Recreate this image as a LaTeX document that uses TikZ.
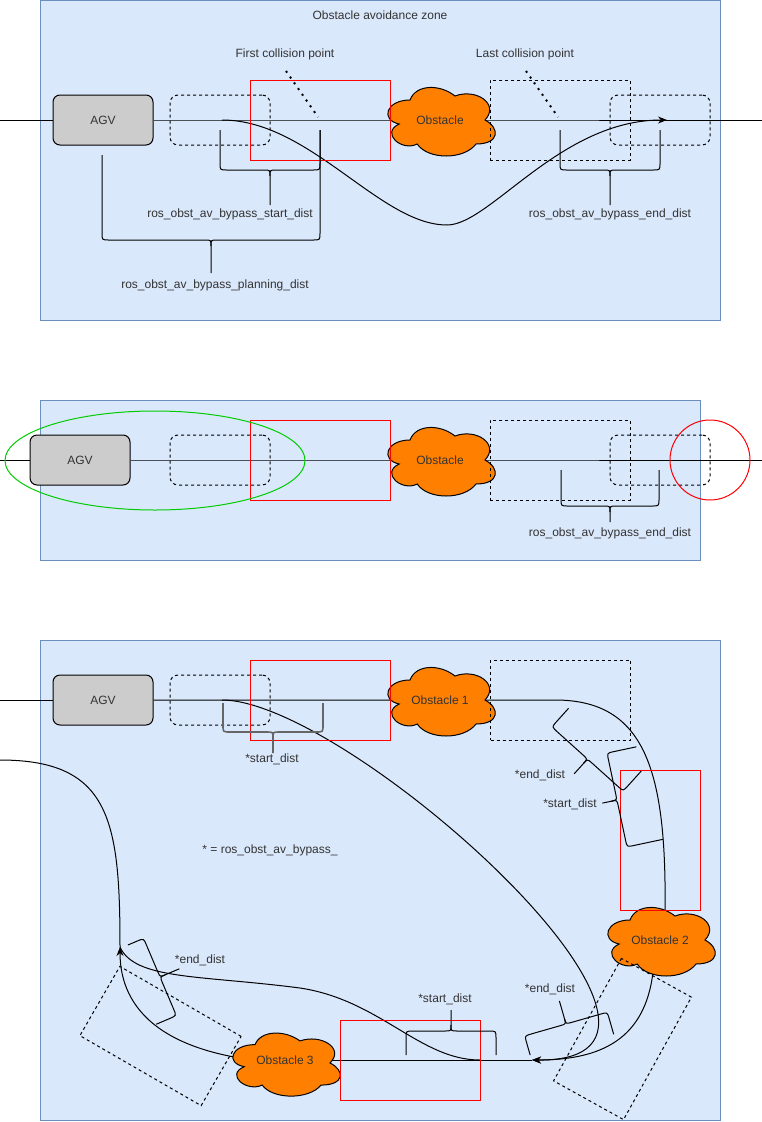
\documentclass[tikz,border=0pt]{standalone}
\usepackage{fontspec}
\setmainfont{Liberation Sans}
\usetikzlibrary{arrows.meta}

\definecolor{zonefill}{HTML}{DAE8FC}
\definecolor{zoneline}{HTML}{6C8EBF}
\definecolor{agvgray}{HTML}{CCCCCC}
\definecolor{obstorange}{HTML}{FF8000}
\definecolor{ringgreen}{HTML}{00CC00}
\definecolor{labelgray}{HTML}{333333}

\tikzset{
  panel/.style={draw=zoneline, fill=zonefill},
  agvbox/.style={draw, fill=agvgray, rounded corners=7, minimum width=100, minimum height=50, inner sep=0, text=labelgray},
  ghost/.style={draw, dashed, rounded corners=8, minimum width=100, minimum height=50, inner sep=0},
  collbox/.style={draw, dashed, minimum width=140, minimum height=80, inner sep=0},
  zonebox/.style={draw=red, minimum width=140, minimum height=80, inner sep=0},
  txt/.style={text=labelgray, inner sep=0},
  pointer/.style={line width=2pt, dash pattern=on 2pt off 5pt},
  arr/.style={-{Stealth[length=9pt,width=7pt]}},
  pics/cloudshape/.style={code={
    \filldraw[fill=obstorange, draw=black] (-30,-20) .. controls (-54,-20) and (-60,0) .. (-40.8,4)
      .. controls (-60,12.8) and (-38.4,32) .. (-22.8,24) .. controls (-12,40) and (24,40) .. (36,24)
      .. controls (60,24) and (60,8) .. (45,0) .. controls (60,-16) and (36,-32) .. (15,-24)
      .. controls (0,-36) and (-24,-36) .. (-30,-20) -- cycle;
  }},
  pics/bracket/.style n args={4}{code={
    \draw (-#1,-#2) -- (-#1,-7) .. controls (-#1,0) .. (-#1+7,0) -- (-6,0) .. controls (0,0) .. (0,6) -- (0,#4);
    \draw (#1,-#3) -- (#1,-7) .. controls (#1,0) .. (#1-7,0) -- (6,0) .. controls (0,0) .. (0,6);
  }},
}

\begin{document}
\begin{tikzpicture}[x=1pt, y=-1pt, line width=1pt, font=\fontsize{12}{14}\selectfont]
\useasboundingbox (0,0) rectangle (762,1122);

% zone 1: planning
\draw[panel] (40,0) rectangle (720,320);
\node[txt] (title1) at (380,15) {Obstacle avoidance zone};
\node[agvbox] (agv1) at (103,120) {AGV};
\coordinate (in1) at (0,120);
\coordinate (out1) at (762,120);
\coordinate (obst1) at (440,120);
\coordinate (leave1) at (222,120);
\coordinate (rejoin1) at (667,120);
\draw (in1) -- (agv1);
\draw (agv1) -- (obst1) -- (out1);
\draw[arr] (leave1) .. controls (310,120) and (380,225) .. (447,225) .. controls (490,225) and (560,120) .. (rejoin1);
\pic at (obst1) {cloudshape};
\node[txt] (obst1txt) at (obst1) {Obstacle};
\node[ghost] (ghost1a) at (220,120) {};
\node[zonebox] (first1) at (320,120) {};
\node[collbox] (last1) at (560,120) {};
\node[ghost] (ghost1b) at (660,120) {};
\node[txt] (firsttxt) at (285,54) {First collision point};
\node[txt] (lasttxt) at (525,54) {Last collision point};
\coordinate (tail1a) at (286,71);
\coordinate (hit1a) at (318,117);
\coordinate (tail1b) at (526,71);
\coordinate (hit1b) at (558,117);
\draw[pointer] (tail1a) -- (hit1a);
\draw[pointer] (tail1b) -- (hit1b);
\pic at (270,170) {bracket={50}{40}{40}{35}};
\node[txt] (start1) at (230,214) {ros\_obst\_av\_bypass\_start\_dist};
\pic at (211,240) {bracket={109}{85}{110}{33}};
\node[txt] (plan1) at (215,285) {ros\_obst\_av\_bypass\_planning\_dist};
\pic at (610,170) {bracket={50}{40}{40}{35}};
\node[txt] (end1) at (610,214) {ros\_obst\_av\_bypass\_end\_dist};

% zone 2: reach
\draw[panel] (40,400) rectangle (700,560);
\node[agvbox] (agv2) at (80,460) {AGV};
\coordinate (in2) at (0,460);
\coordinate (out2) at (762,460);
\coordinate (obst2) at (440,460);
\draw (in2) -- (agv2);
\draw (agv2) -- (obst2) -- (out2);
\pic at (obst2) {cloudshape};
\node[txt] (obst2txt) at (obst2) {Obstacle};
\node[ghost] (ghost2a) at (220,460) {};
\node[zonebox] (first2) at (320,460) {};
\node[collbox] (last2) at (560,460) {};
\node[ghost] (ghost2b) at (660,460) {};
\draw[ringgreen] (155,460.5) ellipse [x radius=150pt, y radius=49.5pt];
\draw[red] (710,460) circle [radius=40pt];
\pic at (610,506) {bracket={49}{36}{36}{16}};
\node[txt] (end2) at (610,533) {ros\_obst\_av\_bypass\_end\_dist};

% zone 3: three obstacles
\draw[panel] (40,640) rectangle (720,1120);
\node[agvbox] (agv3) at (103,700) {AGV};
\coordinate (in3) at (0,700);
\coordinate (in3b) at (0,760);
\coordinate (obst31) at (440,700);
\coordinate (obst32) at (660,940);
\coordinate (obst33) at (285,1063);
\coordinate (obst33mid) at (285,1060);
\coordinate (leave3) at (222,700);
\coordinate (turn3) at (555,700);
\coordinate (enter32) at (665,915);
\coordinate (exit32) at (653,972);
\coordinate (tip3) at (532,1060);
\coordinate (merge3) at (480,1060);
\coordinate (tip3b) at (120,947);
\draw (in3) -- (agv3);
\draw (agv3) -- (obst31) -- (turn3) .. controls (645,700) and (667,770) .. (enter32);
\draw[arr] (leave3) .. controls (350,700) and (750,1062) .. (tip3);
\draw[arr] (exit32) .. controls (645,1040) and (600,1060) .. (tip3);
\draw (obst33mid) -- (tip3);
\draw (merge3) .. controls (420,1060) and (380,1000) .. (300,988) .. controls (200,975) and (135,980) .. (tip3b);
\draw[arr] (obst33) .. controls (150,1055) and (120,1000) .. (tip3b);
\draw (in3b) .. controls (110,760) and (120,820) .. (tip3b);
\pic at (obst31) {cloudshape};
\node[txt] (obst31txt) at (obst31) {Obstacle 1};
\pic at (obst32) {cloudshape};
\node[txt] (obst32txt) at (obst32) {Obstacle 2};
\pic[yscale=0.92] at (obst33) {cloudshape};
\node[txt] (obst33txt) at (obst33mid) {Obstacle 3};
\node[ghost] (ghost3) at (220,700) {};
\node[zonebox] (first31) at (320,700) {};
\node[collbox] (last31) at (560.5,700) {};
\node[zonebox, minimum width=80, minimum height=140] (first32) at (660,840) {};
\node[zonebox] (first33) at (410,1060) {};
\node[collbox, rotate=-30] (last33) at (160.5,1036) {};
\node[collbox, rotate=61] (last32) at (622.5,1039) {};
\pic[black!60, line width=1.6pt] at (273,732) {bracket={50}{29}{29}{21}};
\node[txt] (start31) at (272,759) {*start\_dist};
\pic[rotate=-42] at (587.5,759) {bracket={48}{25}{27}{20}};
\node[txt] (end31) at (540,775) {*end\_dist};
\pic[rotate=-78] at (617,800) {bracket={48}{30}{37}{15}};
\node[txt] (start32) at (570,804) {*start\_dist};
\node[txt] (legend3) at (270,850) {* = ros\_obst\_av\_bypass\_};
\pic[rotate=196] at (566,1024) {bracket={43}{23}{20}{24}};
\node[txt] (end32) at (550,989) {*end\_dist};
\pic[rotate=113] at (160,977) {bracket={42}{22}{17}{21}};
\node[txt] (end33) at (200,960) {*end\_dist};
\pic[rotate=180] at (451,1031) {bracket={45}{24}{24}{21}};
\node[txt] (start33) at (445,999) {*start\_dist};
\end{tikzpicture}
\end{document}
